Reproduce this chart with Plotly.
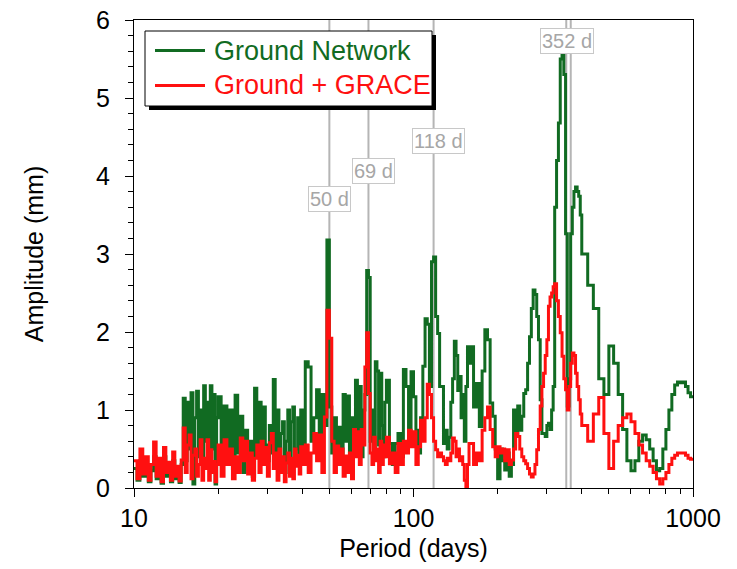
import math
import plotly.graph_objects as go

# Periodogram sampling periods (days)
periods = [
    10, 10.25, 10.5, 10.75, 11, 11.25, 11.5, 11.75, 12, 12.25, 12.5, 12.75, 13, 13.25, 13.5, 13.75, 14, 14.25, 14.5, 14.75,
    15, 15.25, 15.5, 15.75, 16, 16.25, 16.5, 16.75, 17, 17.25, 17.5, 17.75, 18, 18.25, 18.5, 18.75, 19, 19.25, 19.5, 19.75,
    20, 20.5, 21, 21.5, 22, 22.5, 23, 23.5, 24, 24.5, 25, 25.5, 26, 26.5, 27, 27.5, 28, 28.5, 29, 29.5,
    30, 30.5, 31, 31.5, 32, 32.5, 33, 33.5, 34, 34.5, 35, 35.5, 36, 36.5, 37, 37.5, 38, 38.5, 39, 39.5,
    40, 41, 42, 43, 44, 45, 46, 47, 48, 49, 50, 51, 52, 53, 54, 55, 56, 57, 58, 59,
    60, 61, 62, 63, 64, 65, 66, 67, 68, 69, 70, 71, 72, 73, 74, 75, 76, 77, 78, 79,
    80, 82, 84, 86, 88, 90, 92, 94, 96, 98, 100, 102, 104, 106, 108, 110, 112, 114, 116, 118,
    120, 122, 124, 126, 128, 130, 132, 134, 136, 138, 140, 142, 144, 146, 148, 150, 152, 154, 156, 158,
    160, 164, 168, 172, 176, 180, 184, 188, 192, 196, 200, 204, 208, 212, 216, 220, 224, 228, 232, 236,
    240, 244, 248, 252, 256, 260, 264, 268, 272, 276, 280, 284, 288, 292, 296, 300, 304, 308, 312, 316,
    320, 325, 330, 335, 340, 345, 350, 355, 360, 365, 370, 375, 380, 385, 390, 395,
    400, 420, 440, 460, 480, 500, 520, 540, 560, 580, 600, 620, 640, 660, 680, 700, 720, 740, 760, 780,
    800, 820, 840, 860, 880, 900, 920, 940, 960, 980, 1000,
]

# Amplitude spectrum, ground network only (mm)
ground_network = [
    0.25, 0.1, 0.35, 0.15, 0.3, 0.08, 0.22, 0.4, 0.12, 0.3, 0.06, 0.4, 0.15, 0.25, 0.08, 0.35, 0.12, 0.2, 0.07, 0.3,
    1.15, 0.35, 1.1, 0.5, 1.22, 0.05, 0.9, 1.24, 0.4, 1.0, 0.3, 1.31, 0.6, 1.1, 0.25, 1.31, 0.5, 1.2, 0.05, 0.9,
    1.17, 0.3, 1.05, 0.5, 1.0, 0.25, 1.19, 0.45, 0.92, 0.2, 0.74, 0.4, 0.6, 0.15, 1.28, 0.5, 1.1, 0.3, 1.04, 0.55,
    0.35, 0.8, 0.45, 1.39, 0.4, 1.0, 0.3, 0.7, 0.85, 0.2, 0.6, 1.0, 0.35, 0.85, 1.04, 0.4, 0.5, 0.9, 0.3, 1.0,
    0.5, 1.62, 1.55, 0.6, 0.9, 1.26, 0.4, 1.2, 0.8, 3.18, 1.04, 0.45, 0.9, 0.5, 0.78, 0.3, 1.2, 0.6, 1.18, 0.35,
    0.9, 0.5, 1.38, 0.7, 1.3, 0.4, 1.0, 1.2, 2.79, 2.7, 0.6, 1.0, 0.45, 1.62, 1.5, 0.55, 1.47, 0.8, 0.4, 1.1,
    1.38, 0.57, 0.3, 0.57, 0.7, 0.4, 1.52, 1.3, 0.6, 1.49, 1.17, 0.74, 0.45, 0.9, 1.56, 2.17, 2.1, 1.3, 2.9, 2.96,
    2.2, 1.98, 1.3, 1.3, 0.57, 0.74, 0.5, 0.65, 1.1, 1.4, 1.88, 1.7, 1.25, 1.43, 0.9, 1.2, 0.6, 1.3, 1.81, 1.6,
    1.81, 1.04, 1.34, 0.79, 1.5, 2.03, 1.9, 1.09, 0.92, 0.5, 0.12, 0.5, 0.35, 0.23, 0.45, 0.15, 0.3, 1.0, 0.7, 1.05,
    0.74, 0.92, 1.21, 1.26, 1.6, 1.94, 2.3, 2.54, 2.48, 2.2, 1.9, 1.13, 0.7, 0.7, 0.66, 0.8, 0.83, 0.75, 1.0, 1.3,
    3.6, 4.2, 4.68, 5.5, 5.57, 5.3, 3.26, 1.05, 1.4, 3.26, 3.6, 3.8, 3.86, 3.8, 3.74, 3.5,
    3.0, 2.6, 2.3, 1.4, 1.2, 1.82, 1.6, 1.2, 0.75, 0.35, 0.22, 0.35, 0.6, 0.68, 0.62, 0.5, 0.35, 0.22, 0.25, 0.5,
    0.75, 1.0, 1.2, 1.32, 1.36, 1.35, 1.36, 1.3, 1.22, 1.17, 1.15,
]

# Amplitude spectrum, ground network combined with GRACE (mm)
ground_grace = [
    0.35, 0.12, 0.5, 0.18, 0.4, 0.1, 0.3, 0.59, 0.15, 0.38, 0.08, 0.52, 0.2, 0.33, 0.1, 0.46, 0.15, 0.28, 0.09, 0.36,
    0.77, 0.2, 0.55, 0.68, 0.12, 0.42, 0.5, 0.15, 0.3, 0.62, 0.1, 0.38, 0.25, 0.62, 0.1, 0.49, 0.2, 0.34, 0.08, 0.3,
    0.55, 0.15, 0.62, 0.3, 0.5, 0.12, 0.4, 0.2, 0.64, 0.35, 0.6, 0.18, 0.45, 0.1, 0.38, 0.55, 0.2, 0.6, 0.3, 0.52,
    0.15, 0.58, 0.7, 0.25, 0.45, 0.1, 0.5, 0.2, 0.4, 0.08, 0.32, 0.45, 0.15, 0.38, 0.12, 0.5, 0.28, 0.42, 0.18, 0.53,
    0.3, 0.55, 0.2, 0.45, 0.7, 0.35, 0.68, 0.2, 0.91, 2.28, 1.92, 0.6, 0.2, 0.54, 0.3, 0.5, 0.15, 0.41, 0.2, 0.45,
    0.12, 0.75, 0.4, 0.72, 0.3, 0.75, 0.55, 1.55, 1.99, 1.21, 0.45, 0.3, 0.65, 0.35, 0.5, 0.2, 0.6, 0.3, 0.55, 0.4,
    0.65, 0.31, 0.45, 0.2, 0.57, 0.3, 0.6, 0.45, 0.74, 0.53, 0.72, 0.3, 0.53, 0.87, 0.6, 0.9, 1.33, 1.2, 0.9, 0.6,
    0.49, 0.4, 0.45, 0.4, 0.35, 0.3, 0.38, 0.35, 0.45, 0.64, 0.6, 0.4, 0.5, 0.35, 0.4, 0.3, 0.1, 0.02, 0.3, 0.57,
    0.57, 0.3, 0.45, 0.35, 0.74, 0.9, 1.04, 0.75, 0.53, 0.4, 0.53, 0.45, 0.5, 0.35, 0.49, 0.3, 0.36, 0.5, 0.7, 0.66,
    0.5, 0.4, 0.35, 0.31, 0.25, 0.18, 0.14, 0.18, 0.3, 0.49, 0.75, 1.05, 1.3, 1.47, 1.7, 1.9, 2.33, 2.45, 2.5, 2.58,
    2.62, 2.4, 2.2, 1.99, 1.69, 1.4, 1.26, 1.0, 1.3, 1.6, 1.73, 1.7, 1.47, 1.3, 1.13, 0.95,
    0.8, 0.6, 0.95, 1.16, 0.7, 0.25, 0.6, 0.8, 0.9, 0.95, 0.85, 0.7, 0.55, 0.45, 0.35, 0.28, 0.2, 0.12, 0.05, 0.12,
    0.2, 0.3, 0.38, 0.42, 0.45, 0.45, 0.45, 0.42, 0.38, 0.37, 0.38,
]

series_names = ["Ground Network", "Ground + GRACE"]

# Reference periods marked with vertical lines (days)
marked_periods = [50, 69, 118, 352, 365.25]

# Period labels and where they sit (period in days, amplitude in mm)
label_text = ["50 d", "69 d", "118 d", "352 d"]
label_period = [50, 72, 123, 353]
label_amp = [3.70, 4.06, 4.45, 5.73]

GREEN = "#116b22"
RED = "#ff1010"
GREY_LINE = "#b5b5b5"
FONT = "Liberation Sans, Arial, Helvetica, sans-serif"

fig = go.Figure()

# vertical marker lines, drawn beneath the spectra
vx, vy = [], []
for p in marked_periods:
    vx += [p, p, None]
    vy += [0, 6, None]
fig.add_trace(go.Scatter(x=vx, y=vy, mode="lines", line=dict(color=GREY_LINE, width=2),
                         showlegend=False, hoverinfo="skip"))

for name, vals, col in zip(series_names, [ground_network, ground_grace], [GREEN, RED]):
    fig.add_trace(go.Scatter(x=periods, y=vals, mode="lines", name=name, showlegend=False,
                             line=dict(color=col, width=3, shape="hv")))

annotations = []
for t, p, a in zip(label_text, label_period, label_amp):
    annotations.append(dict(
        x=(math.log10(p) - 1) / 2, xref="paper", y=a, yref="y", text=t, showarrow=False,
        xanchor="center", yanchor="middle",
        font=dict(size=20, color="#a6a6a6", family=FONT), bgcolor="white",
        bordercolor="#c8c8c8", borderwidth=1, borderpad=1,
    ))

L, R, T, B = 134, 44, 20, 81
W, H = 737, 569
pw, ph = W - L - R, H - T - B

def px_x(x):
    return (x - L) / pw

def px_y(y):
    return 1 - (y - T) / ph

# Legend box with drop shadow, line samples and coloured labels
shapes = [
    dict(type="rect", xref="paper", yref="paper",
         x0=px_x(149), x1=px_x(436), y0=px_y(110), y1=px_y(35),
         fillcolor="black", line=dict(width=0), layer="above"),
    dict(type="rect", xref="paper", yref="paper",
         x0=px_x(145), x1=px_x(432), y0=px_y(106), y1=px_y(31),
         fillcolor="white", line=dict(color="black", width=1), layer="above"),
]
legend_rows = [50.5, 85.5]
for name, col, row in zip(series_names, [GREEN, RED], legend_rows):
    shapes.append(dict(type="line", xref="paper", yref="paper",
                       x0=px_x(155), x1=px_x(205), y0=px_y(row), y1=px_y(row),
                       line=dict(color=col, width=3), layer="above"))
    annotations.append(dict(x=px_x(212), xref="paper", y=px_y(row), yref="paper",
                            xanchor="left", yanchor="middle", showarrow=False,
                            text=name, font=dict(size=27, color=col, family=FONT)))

fig.update_layout(
    width=W, height=H,
    margin=dict(l=L, r=R, t=T, b=B, autoexpand=False),
    paper_bgcolor="white", plot_bgcolor="white",
    font=dict(family=FONT, size=25, color="black"),
    showlegend=False,
    annotations=annotations,
    shapes=shapes,
)

fig.update_xaxes(
    type="log", range=[1, 3], automargin=False,
    tickvals=[10, 100, 1000], ticktext=["10", "100", "1000"],
    ticks="outside", ticklen=8, tickwidth=1, tickcolor="black",
    minor=dict(tickvals=[20, 30, 40, 50, 60, 70, 80, 90, 200, 300, 400, 500, 600, 700, 800, 900],
               ticks="outside", ticklen=5, tickcolor="black", showgrid=False),
    showline=True, linecolor="black", linewidth=1, mirror=True,
    showgrid=False, zeroline=False,
    title=dict(text="Period (days)", font=dict(size=25), standoff=8),
    tickfont=dict(size=25),
)
fig.update_yaxes(
    range=[0, 6], dtick=1, automargin=False,
    ticks="outside", ticklen=8, tickwidth=1, tickcolor="black",
    minor=dict(dtick=0.2, ticks="outside", ticklen=5, tickcolor="black", showgrid=False),
    showline=True, linecolor="black", linewidth=1, mirror=True,
    showgrid=False, zeroline=False, ticklabelstandoff=10,
    title=dict(text="Amplitude (mm)", font=dict(size=25), standoff=45),
    tickfont=dict(size=25),
)

fig.write_html("out.html")
